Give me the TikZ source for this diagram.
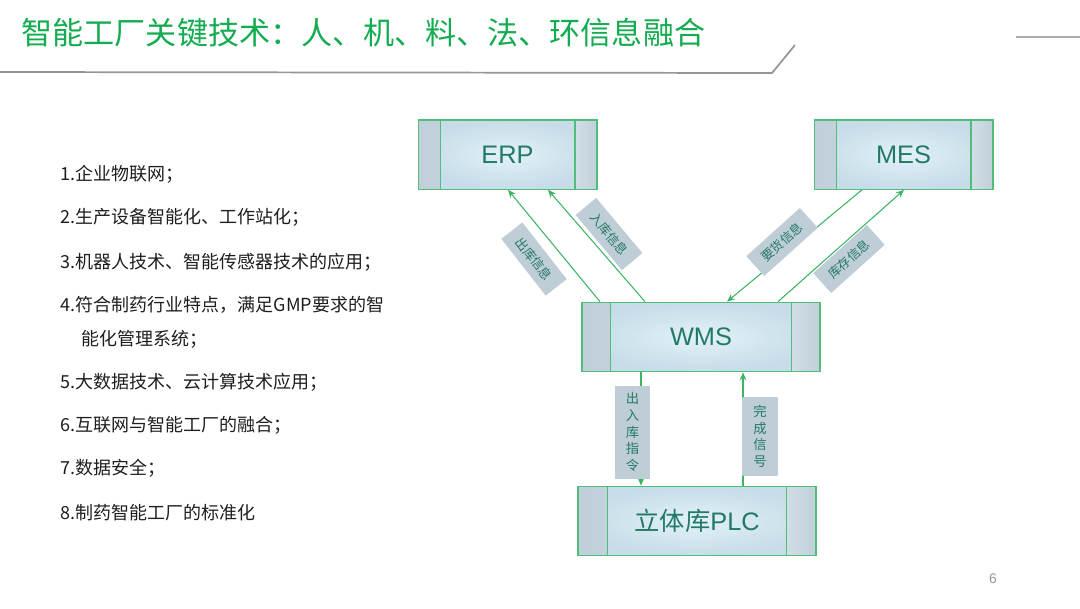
\documentclass[tikz,border=0pt]{standalone}
\usepackage{fontspec}
\setmainfont{Noto Sans CJK SC}
\newfontfamily\latinfont{Liberation Sans}
\usetikzlibrary{arrows.meta,positioning,calc}
\definecolor{titleGreen}{RGB}{20,172,80}
\definecolor{boxGreen}{RGB}{80,190,120}
\definecolor{lineGreen}{RGB}{60,180,100}
\definecolor{boxText}{RGB}{35,122,100}
\definecolor{boxLight}{RGB}{226,241,248}
\definecolor{boxDark}{RGB}{198,220,232}
\definecolor{sideDark}{RGB}{192,207,218}
\definecolor{sideLight}{RGB}{210,222,230}
\definecolor{tagDark}{RGB}{190,205,214}
\definecolor{tagLight}{RGB}{228,238,243}
\definecolor{ruleGray}{RGB}{150,150,150}
\definecolor{listText}{RGB}{30,30,30}

\begin{document}
\begin{tikzpicture}[x=0.75pt,y=-0.75pt,
    sysbox/.style={rectangle, draw=boxGreen, line width=1pt,
                   inner color=boxLight, outer color=boxDark,
                   minimum height=52pt, text=boxText,
                   font=\latinfont\fontsize{19}{22}\selectfont,
                   path picture={
                     \shade[left color=sideDark, right color=sideLight]
                       (path picture bounding box.north west) rectangle ([xshift=#1]path picture bounding box.south west);
                     \shade[left color=sideLight, right color=sideDark]
                       (path picture bounding box.north east) rectangle ([xshift=-#1]path picture bounding box.south east);
                     \draw[boxGreen, line width=1pt]
                       ([xshift=#1]path picture bounding box.north west) -- ([xshift=#1]path picture bounding box.south west);
                     \draw[boxGreen, line width=1pt]
                       ([xshift=-#1]path picture bounding box.north east) -- ([xshift=-#1]path picture bounding box.south east);
                   }},
    tag/.style={rectangle, inner sep=0pt, left color=tagDark, middle color=tagLight,
                right color=tagDark, text=boxText,
                font=\fontsize{9.5}{11}\selectfont,
                minimum width=54pt, minimum height=20pt},
    vtag/.style={tag, font=\fontsize{10}{12.5}\selectfont, align=center,
                 minimum width=26pt},
    flow/.style={-{Stealth[length=6pt,width=5pt]}, line width=0.8pt, lineGreen},
    item/.style={anchor=west, text=listText, font=\fontsize{13.5}{16}\selectfont}
  ]
  \useasboundingbox (0,0) rectangle (1080,608);

  \node[anchor=west, text=titleGreen, font=\fontsize{23.3}{26}\selectfont] (title) at (17,33)
    {智能工厂关键技术：人、机、料、法、环信息融合};
  \draw[ruleGray, line width=1.3pt] (0,72) -- (772,73) -- (795,45);
  \draw[ruleGray!80, line width=0.8pt] (1016,37) -- (1080,37);

  \foreach \y/\x/\txt [count=\i] in {174/56/{1.企业物联网；},
      217/56/{2.生产设备智能化、工作站化；},
      262/56/{3.机器人技术、智能传感器技术的应用；},
      305/56/{4.符合制药行业特点，满足GMP要求的智},
      339/77/{能化管理系统；},
      382/56/{5.大数据技术、云计算技术应用；},
      425/56/{6.互联网与智能工厂的融合；},
      468/56/{7.数据安全；},
      513/56/{8.制药智能工厂的标准化}}
    \node[item] (item\i) at (\x,\y) {\txt};

  \node[sysbox=16.5pt, minimum width=134pt]   (erp) at (507.5,154.5) {ERP};
  \node[sysbox=16.5pt, minimum width=134pt]   (mes) at (903.5,154.5) {MES};
  \node[sysbox=21.5pt, minimum width=178.5pt] (wms) at (701,337) {WMS};
  \node[sysbox=22pt,   minimum width=178.5pt] (plc) at (697,521) {{\rmfamily 立体库}PLC};

  \draw[flow] ($(wms.north)+(-101,0)$) -- ($(erp.south)+(0.5,0)$);
  \draw[flow] ($(wms.north)+(-56,0)$)  -- ($(erp.south)+(40.5,0)$);
  \draw[flow] ($(mes.south)+(-41.5,0)$) -- ($(wms.north)+(26,0)$);
  \draw[flow] ($(wms.north)+(77,0)$)   -- ($(mes.south)+(0.5,0)$);
  \draw[flow] ($(wms.south)+(-60,0)$)  -- ($(plc.north)+(-56,0)$);
  \draw[flow] ($(plc.north)+(46,0)$)   -- ($(wms.south)+(42,0)$);

  \node[tag, rotate=-52] (outinfo)   at (534,259) {出库信息};
  \node[tag, rotate=-50] (ininfo)    at (609,234) {入库信息};
  \node[tag, rotate=42]  (orderinfo) at (782,242) {要货信息};
  \node[tag, rotate=42]  (stockinfo) at (849,259) {库存信息};
  \node[vtag, minimum height=69pt] (cmd)  at (632.5,432) {出\\入\\库\\指\\令};
  \node[vtag, minimum height=59pt] (done) at (760,436.5) {完\\成\\信\\号};

  \node[text=ruleGray, font=\latinfont\fontsize{10.5}{12}\selectfont] (pagenum) at (993,579) {6};
\end{tikzpicture}
\end{document}
